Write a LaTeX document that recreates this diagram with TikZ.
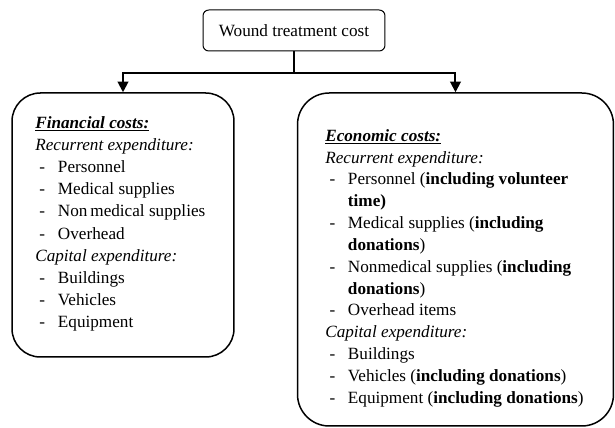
\documentclass[tikz,border=0pt]{standalone}
\usepackage{fontspec}
\setmainfont{Liberation Serif}
\usetikzlibrary{arrows.meta}

\tikzset{
	costbox/.style={draw, line width=0.9pt, inner sep=0pt},
	costtext/.style={anchor=north west, align=left, inner sep=0pt},
	link/.style={line width=1.2pt},
}
\newcommand{\dashitem}{\makebox[13.6pt][l]{\hspace{2.5pt}-}}
\newcommand{\contline}{\hspace*{13.6pt}}

\begin{document}
\begin{tikzpicture}[x=0.6pt, y=-0.6pt, font=\fontsize{10.3}{13.3}\selectfont]
		\useasboundingbox (0,0) rectangle (615,428);
		% Top node
		\node[draw, line width=0.6pt, rounded corners=3.5pt, minimum width=109.2pt,
			minimum height=24.6pt, inner sep=0pt] (cost) at (294,30.5) {Wound treatment cost};
		% The two cost boxes
		\node[costbox, rounded corners=17pt, minimum width=133.2pt, minimum height=158.4pt]
			(financial) at (123,225) {};
		\node[costbox, rounded corners=19pt, minimum width=189.6pt, minimum height=199.8pt]
			(economic) at (455.5,259.5) {};
		% Connectors
		\coordinate (split) at (294,73);
		\draw[link] (cost.south) -- (split);
		\draw[link, -{Triangle[width=6.4pt,length=6.4pt]}] (split) -| (financial.north);
		\draw[link, -{Triangle[width=6.4pt,length=6.4pt]}] (split) -| (economic.north);
		% Box texts
		\node[costtext] (fintext) at (35,116) {%
			\underline{\textbf{\textit{Financial costs:}}}\\
			\textit{Recurrent expenditure:}\\
			\dashitem Personnel\\
			\dashitem Medical supplies\\
			\dashitem Non\,medical supplies\\
			\dashitem Overhead\\
			\textit{Capital expenditure:}\\
			\dashitem Buildings\\
			\dashitem Vehicles\\
			\dashitem Equipment};
		\node[costtext, font=\fontsize{10.3}{13.1}\selectfont] (ecotext) at (325,129) {%
			\underline{\textbf{\textit{Economic costs:}}}\\
			\textit{Recurrent expenditure:}\\
			\dashitem Personnel (\textbf{including volunteer}\\
			\contline\textbf{time)}\\
			\dashitem Medical supplies (\textbf{including}\\
			\contline\textbf{donations})\\
			\dashitem Nonmedical supplies (\textbf{including}\\
			\contline\textbf{donations})\\
			\dashitem Overhead items\\
			\textit{Capital expenditure:}\\
			\dashitem Buildings\\
			\dashitem Vehicles (\textbf{including donations})\\
			\dashitem Equipment (\textbf{including donations})};
	\end{tikzpicture}
\end{document}
